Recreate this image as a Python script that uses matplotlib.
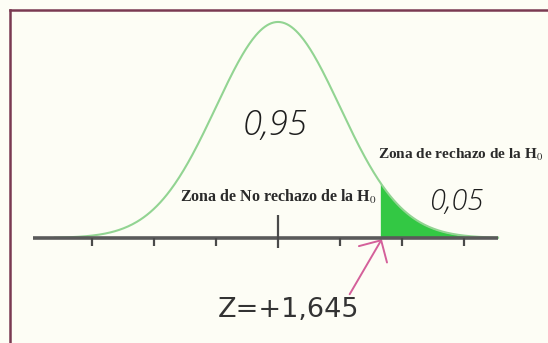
import numpy as np
import matplotlib
matplotlib.use("Agg")
import matplotlib.pyplot as plt
from matplotlib.lines import Line2D

plt.rcParams['mathtext.fontset'] = 'stix'

# datos de la distribucion normal estandar
z_critico = 1.645
area_no_rechazo = "0,95"
area_rechazo = "0,05"
marcas = [-3, -2, -1, 1, 2, 3]
z = np.linspace(-3.6, 3.55, 400)
densidad = np.exp(-z ** 2 / 2) / np.sqrt(2 * np.pi)

fondo = '#fdfdf5'
fig = plt.figure(figsize=(5.48, 3.43), dpi=100, facecolor=fondo)
ax = fig.add_axes([0, 0, 1, 1])
ax.set_facecolor(fondo)
ax.set_xlim(-4.484, 4.355)
ax.set_ylim(-0.1939, 0.4395)
ax.axis('off')

# zona de rechazo sombreada
cola = z >= z_critico
ax.fill_between(z[cola], 0, densidad[cola], color='#33c844', lw=0, zorder=2)

# curva
ax.plot(z, densidad, color='#92d492', lw=1.5, zorder=3)

# eje horizontal con marcas
ax.plot([-3.95, 3.55], [0, 0], color='#5a5a5a', lw=2.6, solid_capstyle='butt', zorder=4)
ax.vlines(marcas, -0.014, 0.0, color='#4a4a4a', lw=1.6, zorder=4)
ax.vlines([0], -0.018, 0.043, color='#4a4a4a', lw=1.6, zorder=4)

# textos
ax.text(-0.05, 0.207, area_no_rechazo, fontsize=25, style='italic', fontfamily='Open Sans',
        fontweight='light', color='#1e1e1e', ha='center', va='center')
ax.text(2.87, 0.066, area_rechazo, fontsize=21, style='italic', fontfamily='Open Sans',
        fontweight='light', color='#1e1e1e', ha='center', va='center')
ax.text(-1.58, 0.076, r'Zona de No rechazo de la H$_0$', fontsize=11.5, fontfamily='Liberation Serif',
        fontweight='bold', color='#2a2a2a', ha='left', va='center')
ax.text(1.62, 0.153, r'Zona de rechazo de la H$_0$', fontsize=11, fontfamily='Liberation Serif',
        fontweight='bold', color='#2a2a2a', ha='left', va='center')

# flecha al valor critico
ax.annotate(f'Z=+{z_critico:.3f}'.replace('.', ','), xy=(z_critico + 0.03, -0.002),
            xytext=(-0.97, -0.133), fontsize=19.5, fontfamily='DejaVu Sans', color='#333333',
            ha='left', va='center',
            arrowprops=dict(arrowstyle='->, head_length=0.6, head_width=0.6', color='#d4609a',
                            lw=1.4, shrinkA=0, shrinkB=0,
                            relpos=(0.92, 1.0)))

# marco del recuadro
fig.add_artist(Line2D([9.5 / 548, 1], [1 - 9.5 / 343, 1 - 9.5 / 343], color='#7a3a52', lw=1.8))
fig.add_artist(Line2D([9.5 / 548, 9.5 / 548], [0, 1 - 9.5 / 343], color='#7a3a52', lw=1.8))

fig.savefig('out.png', dpi=100, facecolor=fondo)
